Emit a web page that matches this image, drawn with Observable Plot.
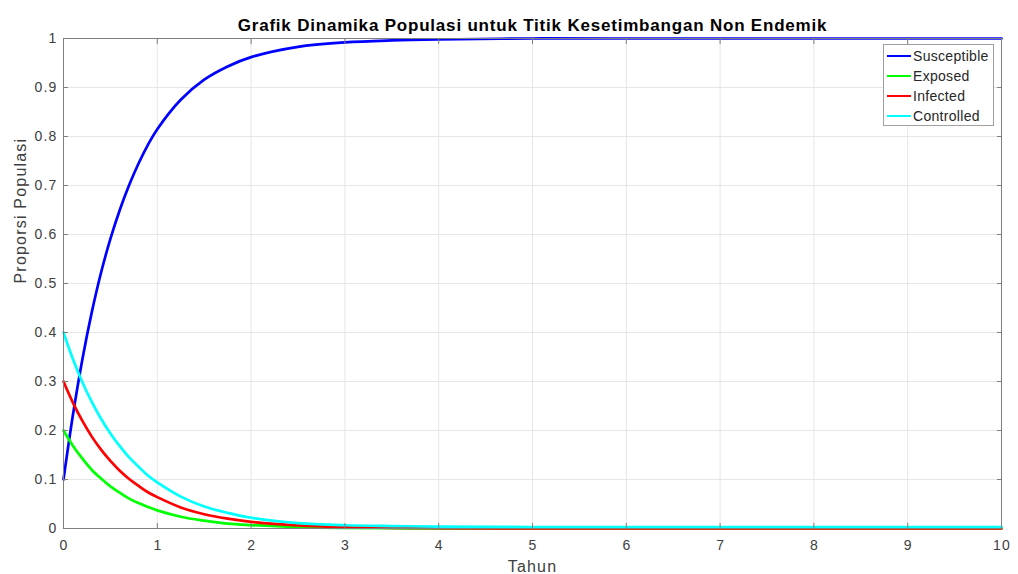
<!DOCTYPE html>
<html><head><meta charset="utf-8">
<script src="https://cdn.jsdelivr.net/npm/d3@7"></script>
<script src="https://cdn.jsdelivr.net/npm/@observablehq/plot@0.6"></script>
<style>
html,body{margin:0;padding:0;background:#fff;}
#wrap{position:relative;width:1018px;height:574px;font-family:"Liberation Sans",Arial,Helvetica,sans-serif;}
#legend{position:absolute;left:883px;top:44px;width:109px;height:80px;border:1px solid #a0a0a0;background:#fff;font-size:14px;letter-spacing:0.3px;color:#262626;}
#legend .row{position:absolute;left:0;height:20px;display:flex;align-items:center;}
#legend .sw{width:24px;height:0;border-top:2.5px solid;margin-left:3px;margin-right:2px;}
</style>
</head><body>
<div id="wrap"></div>
<script>
const judul = "Grafik Dinamika Populasi untuk Titik Kesetimbangan Non Endemik";
const labelX = "Tahun";
const labelY = "Proporsi Populasi";
const seriesNames = ["Susceptible", "Exposed", "Infected", "Controlled"];
const seriesColors = ["#0000ff", "#00ff00", "#ff0000", "#00ffff"];
const xTicks = [0,1,2,3,4,5,6,7,8,9,10];
const yTicks = [0,0.1,0.2,0.3,0.4,0.5,0.6,0.7,0.8,0.9,1];

const tahun = [0,0.1,0.2,0.3,0.4,0.5,0.6,0.7,0.8,0.9,1,1.25,1.5,1.75,2,2.5,3,3.5,4,5,6,7,8,9,10];
const susceptible = [0.10,0.231,0.344,0.44,0.522,0.591,0.650,0.701,0.745,0.783,0.815,0.875,0.916,0.943,0.962,0.983,0.992,0.996,0.998,1,1,1,1,1,1];
const exposed     = [0.20,0.169,0.143,0.120,0.102,0.086,0.073,0.061,0.052,0.044,0.037,0.024,0.016,0.010,0.007,0.003,0.0013,0.0005,0.0002,0,0,0,0,0,0];
const infected    = [0.30,0.257,0.220,0.188,0.161,0.138,0.118,0.101,0.087,0.074,0.064,0.043,0.029,0.020,0.0135,0.0062,0.0029,0.0013,0.0006,0.0001,0,0,0,0,0];
const controlled  = [0.40,0.346,0.299,0.259,0.224,0.194,0.168,0.145,0.126,0.108,0.094,0.065,0.045,0.032,0.022,0.011,0.0066,0.005,0.004,0.003,0.0027,0.0027,0.0027,0.0027,0.0027];

const seriesValues = [susceptible, exposed, infected, controlled];
const rows = seriesNames.flatMap((name, k) => tahun.map((t, i) => ({series: name, t, v: seriesValues[k][i]})));

const axisColor = "#7f7f7f";
const font = '"Liberation Sans", Arial, Helvetica, sans-serif';

const chart = Plot.plot({
  width: 1018, height: 574,
  marginLeft: 63, marginRight: 17, marginTop: 38, marginBottom: 46,
  style: {fontFamily: font, fontSize: "14px", color: "#404040", background: "#fff", letterSpacing: "1.2px"},
  x: {domain: [0, 10], label: null},
  y: {domain: [0, 1], label: null},
  color: {domain: seriesNames, range: seriesColors},
  marks: [
    Plot.gridX(xTicks, {stroke: "#e6e6e6", strokeOpacity: 1}),
    Plot.gridY(yTicks, {stroke: "#e6e6e6", strokeOpacity: 1}),
    Plot.line(rows, {x: "t", y: "v", z: "series", stroke: "series", strokeWidth: 2.7, curve: "catmull-rom"}),
    Plot.frame({stroke: axisColor, strokeWidth: 1}),
    Plot.axisX(xTicks, {anchor: "bottom", tickSize: 0, tickPadding: 12, tickFormat: d => String(d), label: null, fill: "#404040", dx: 0.6}),
    Plot.axisY(yTicks, {anchor: "left", tickSize: 0, tickPadding: 6, tickFormat: d => String(d), label: null, fill: "#404040"}),
    Plot.axisX(xTicks, {anchor: "bottom", tickSize: -5, tickFormat: () => "", label: null, stroke: axisColor}),
    Plot.axisX(xTicks, {anchor: "top", tickSize: -5, tickFormat: () => "", label: null, stroke: axisColor}),
    Plot.axisY(yTicks, {anchor: "left", tickSize: -5, tickFormat: () => "", label: null, stroke: axisColor}),
    Plot.axisY(yTicks, {anchor: "right", tickSize: -5, tickFormat: () => "", label: null, stroke: axisColor}),
    Plot.text([judul], {frameAnchor: "top", lineAnchor: "top", dy: -20, text: d => d, fontWeight: "bold", fontSize: 17, fill: "#000"}),
    Plot.text([labelX], {frameAnchor: "bottom", dy: 43, text: d => d, fontSize: 16, fill: "#404040"}),
    Plot.text([labelY], {frameAnchor: "left", dx: -43, rotate: -90, text: d => d, fontSize: 16, fill: "#404040"})
  ]
});
// title letter spacing differs from the rest
chart.querySelectorAll("text").forEach(t => {
  if (t.textContent === judul) t.setAttribute("letter-spacing", "0.8px");
});
const wrap = document.getElementById("wrap");
wrap.appendChild(chart);

const legend = document.createElement("div");
legend.id = "legend";
seriesNames.forEach((name, i) => {
  const row = document.createElement("div");
  row.className = "row";
  row.style.top = (1 + i * 20) + "px";
  const sw = document.createElement("span");
  sw.className = "sw";
  sw.style.borderTopColor = seriesColors[i];
  const tx = document.createElement("span");
  tx.textContent = name;
  row.appendChild(sw); row.appendChild(tx);
  legend.appendChild(row);
});
wrap.appendChild(legend);
</script>
</body></html>
